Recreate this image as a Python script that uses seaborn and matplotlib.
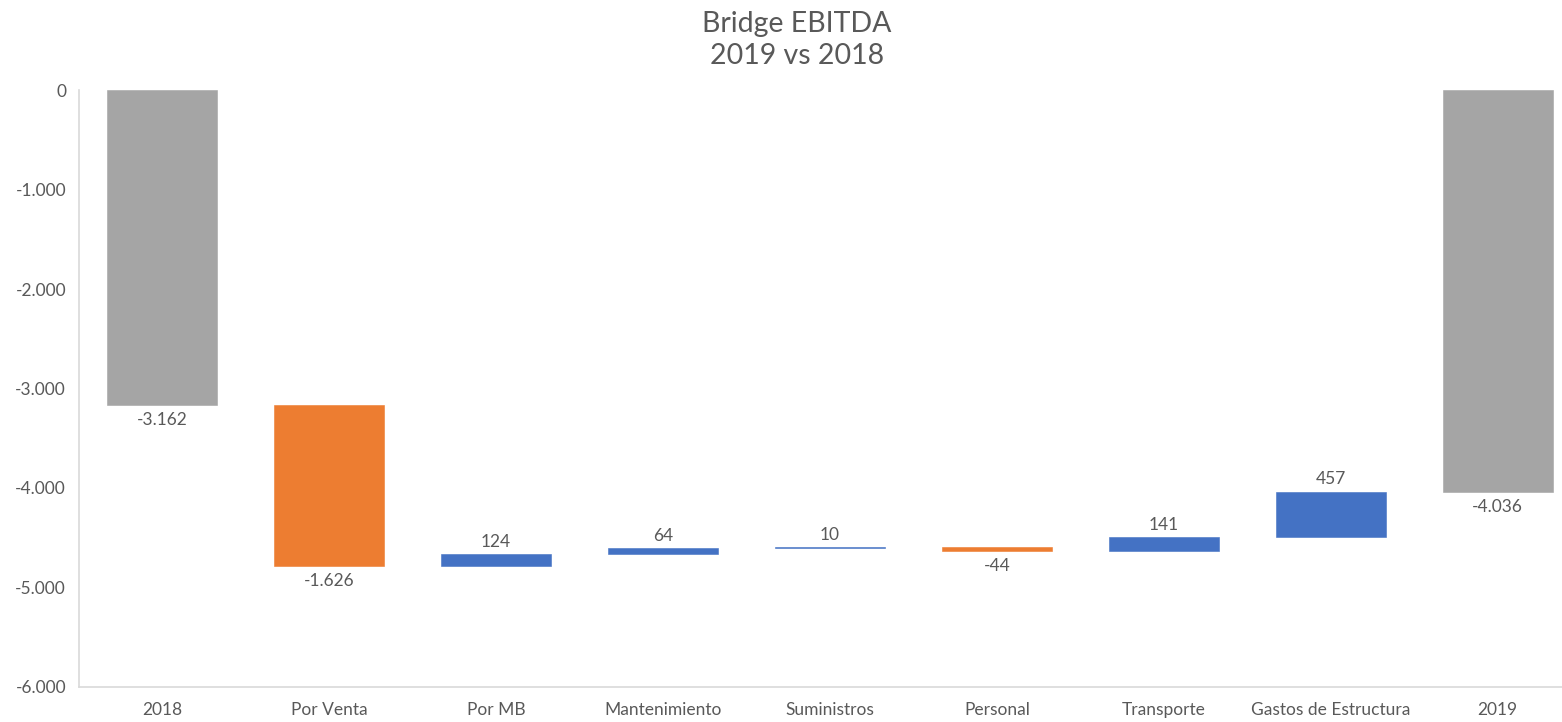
import numpy as np
import pandas as pd
import matplotlib
matplotlib.use("Agg")
import matplotlib.pyplot as plt
import seaborn as sns

# EBITDA bridge, 2018 -> 2019 (thousands)
categories = ["2018", "Por Venta", "Por MB", "Mantenimiento", "Suministros",
              "Personal", "Transporte", "Gastos de Estructura", "2019"]
start_total = -3162
deltas = [-1626, 124, 64, 10, -44, 141, 457]
end_total = -4036

GREY = "#A5A5A5"
ORANGE = "#ED7D31"
BLUE = "#4472C4"
TEXT = "#595959"

# floating bar geometry derived from the running total
rows = [dict(cat=categories[0], bottom=0.0, height=start_total, kind="total", label=start_total)]
running = start_total
for cat, d in zip(categories[1:-1], deltas):
    rows.append(dict(cat=cat, bottom=running, height=d,
                     kind="up" if d >= 0 else "down", label=d))
    running += d
rows.append(dict(cat=categories[-1], bottom=0.0, height=end_total, kind="total", label=end_total))
df = pd.DataFrame(rows)
df["pos"] = np.arange(len(df))

sns.set_theme(style="white")
plt.rcParams["font.family"] = ["Lato", "DejaVu Sans"]

fig = plt.figure(figsize=(15.62, 7.22), dpi=100)
ax = fig.add_axes([0.0503, 0.0485, 0.962, 0.8268])

palette = {"total": GREY, "down": ORANGE, "up": BLUE}
for kind, color in palette.items():
    sub = df[df["kind"] == kind].sort_values("pos")
    sns.barplot(data=sub, x="cat", y="height", order=categories,
                bottom=sub["bottom"].to_numpy(), color=color, width=0.66,
                saturation=1, errorbar=None, edgecolor=color, linewidth=0.4,
                ax=ax)

def fmt(v):
    return f"{v:,.0f}".replace(",", ".")

for _, r in df.iterrows():
    top = r["bottom"] + r["height"]
    if r["height"] >= 0:
        ax.annotate(fmt(r["label"]), (r["pos"], top), xytext=(0, 3),
                    textcoords="offset points", ha="center", va="bottom",
                    fontsize=12.5, color=TEXT)
    else:
        ax.annotate(fmt(r["label"]), (r["pos"], top), xytext=(0, -5),
                    textcoords="offset points", ha="center", va="top",
                    fontsize=12.5, color=TEXT)

ax.set_ylim(-6000, 0)
ax.set_xlim(-0.5, len(categories) - 0.5)
ax.set_yticks(np.arange(-6000, 1, 1000))
ax.set_yticklabels([fmt(v) for v in np.arange(-6000, 1, 1000)])
ax.set_xlabel("")
ax.set_ylabel("")
ax.tick_params(axis="both", length=0, labelsize=12.5, colors=TEXT)
ax.tick_params(axis="y", pad=9)
ax.tick_params(axis="x", pad=11)

for side in ["top", "right"]:
    ax.spines[side].set_visible(False)
for side in ["left", "bottom"]:
    ax.spines[side].set_color("#D9D9D9")
    ax.spines[side].set_linewidth(1.2)

fig.text(0.51, 0.985, "Bridge EBITDA\n2019 vs 2018", ha="center", va="top",
         fontsize=20.5, color=TEXT, linespacing=1.3)

fig.savefig("out.png", dpi=100)
